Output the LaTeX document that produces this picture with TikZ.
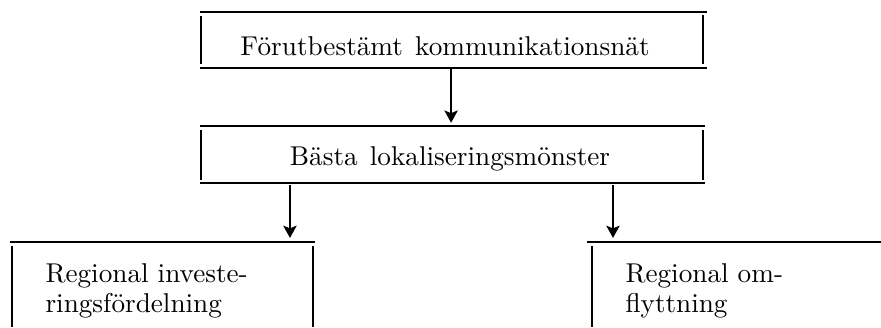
\documentclass[tikz,border=0pt]{standalone}
\usepackage{fontspec}
\usepackage{tikz}
\usetikzlibrary{arrows.meta,positioning,calc}
\newcommand{\widesp}{\spaceskip=4.6pt\relax}
\tikzset{
	frame/.style={rectangle,inner sep=0,outer sep=0},
	boxtext/.style={inner sep=0,font=\fontsize{10.2}{11.2}\selectfont},
	widetext/.style={inner sep=0,font=\fontsize{10.2}{11.2}\selectfont\widesp},
	rule/.style={color=black,line width=0.55pt},
	siderule/.style={color=black,line width=0.65pt},
	flow/.style={->,>={Stealth[width=5pt,length=4.6pt,inset=1pt]},color=black,line width=0.75pt}
}

\begin{document}
\begin{tikzpicture}[x=0.375pt,y=0.375pt]
	\useasboundingbox (0,0) rectangle (881,327);

	%%frames of the four boxes
	\node[frame,minimum width=190.1pt,minimum height=21pt] (netbox) at (453.5,287) {};
	\node[frame,minimum width=189.4pt,minimum height=21.4pt] (bestbox) at (452.5,172.5) {};
	\node[frame,minimum width=114.4pt,minimum height=31.9pt] (invbox) at (162.5,42.5) {};
	\node[frame,minimum width=110.25pt,minimum height=31.9pt] (flytbox) at (734,42.5) {};

	%%texts
	\node[widetext,anchor=base] (net) at (445,272) {Förutbestämt kommunikationsnät};
	\node[widetext,anchor=base] (best) at (450,162) {Bästa lokaliseringsmönster};
	\node[boxtext,align=left,anchor=north west] (inv) at (45,64) {Regional investe-\\ringsfördelning};
	\node[boxtext,align=left,anchor=north west] (flyt) at (625,64) {Regional om-\\flyttning};

	%%Box netbox
	\draw[rule] (netbox.north west) -- (netbox.north east);
	\draw[rule] (netbox.south west) -- (netbox.south east);
	\draw[siderule] ([shift={(0.4pt,-1.5pt)}]netbox.north west) -- ([shift={(0.4pt,1.5pt)}]netbox.south west);
	\draw[siderule] ([shift={(-1.4pt,-1.2pt)}]netbox.north east) -- ([shift={(-1.4pt,1.5pt)}]netbox.south east);

	%%Box bestbox
	\draw[rule] (bestbox.north west) -- (bestbox.north east);
	\draw[rule] (bestbox.south west) -- (bestbox.south east);
	\draw[siderule] ([shift={(0.4pt,-1.5pt)}]bestbox.north west) -- ([shift={(0.4pt,1.2pt)}]bestbox.south west);
	\draw[siderule] ([shift={(-0.8pt,-1.5pt)}]bestbox.north east) -- ([shift={(-0.8pt,1.2pt)}]bestbox.south east);

	%%Box invbox (cut at the bottom)
	\draw[rule] (invbox.north west) -- (invbox.north east);
	\draw[siderule] ([shift={(0.8pt,-1.5pt)}]invbox.north west) -- ([xshift=0.8pt]invbox.south west);
	\draw[siderule] ([shift={(-0.8pt,-1.5pt)}]invbox.north east) -- ([xshift=-0.8pt]invbox.south east);

	%%Box flytbox (cut at the bottom and right)
	\draw[rule] (flytbox.north west) -- (flytbox.north east);
	\draw[siderule] ([shift={(1.9pt,-1.5pt)}]flytbox.north west) -- ([xshift=1.9pt]flytbox.south west);

	%%arrows
	\draw[flow] ([xshift=-0.9pt]netbox.south) -- ([xshift=-0.9pt,yshift=1.2pt]netbox.south |- bestbox.north);
	\draw[flow] ([xshift=-9.4pt,yshift=-0.7pt]invbox.north east |- bestbox.south) -- ([xshift=-9.4pt,yshift=1.5pt]invbox.north east);
	\draw[flow] ([xshift=9.75pt,yshift=-0.7pt]flytbox.north west |- bestbox.south) -- ([xshift=9.75pt,yshift=1.5pt]flytbox.north west);
\end{tikzpicture}
\end{document}
